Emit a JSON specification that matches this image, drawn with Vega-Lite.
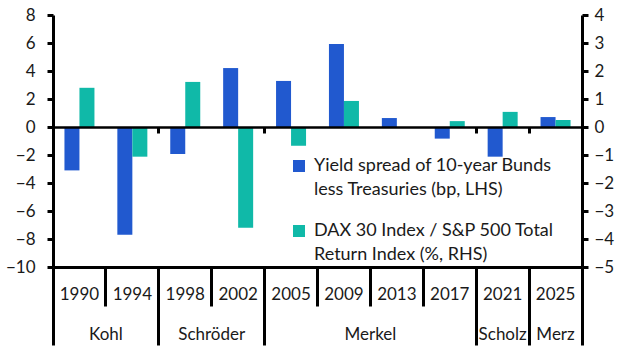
{
  "$schema": "https://vega.github.io/schema/vega-lite/v6.json",
  "width": 529,
  "height": 252,
  "autosize": {"type": "none"},
  "padding": {"left": 53, "top": 15, "right": 50, "bottom": 90},
  "background": "white",
  "config": {
    "font": "Lato",
    "view": {"stroke": null},
    "style": {"guide-label": {"lineHeight": 24}},
    "axis": {"labelFont": "Lato", "labelFontSize": 17, "labelColor": "#1a1a1a", "domainColor": "black", "tickColor": "black", "grid": false, "title": null}
  },
  "data": {
    "values": [
      {"year": "1990", "spread": -3.1, "dax": 1.4},
      {"year": "1994", "spread": -7.7, "dax": -1.06},
      {"year": "1998", "spread": -1.93, "dax": 1.61},
      {"year": "2002", "spread": 4.21, "dax": -3.6},
      {"year": "2005", "spread": 3.29, "dax": -0.67},
      {"year": "2009", "spread": 5.93, "dax": 0.93},
      {"year": "2013", "spread": 0.64, "dax": 0.0},
      {"year": "2017", "spread": -0.83, "dax": 0.21},
      {"year": "2021", "spread": -2.12, "dax": 0.54},
      {"year": "2025", "spread": 0.71, "dax": 0.25}
    ]
  },
  "layer": [
    {
      "mark": {"type": "bar"},
      "encoding": {
        "x": {"field": "year", "type": "nominal", "sort": null, "scale": {"paddingInner": 0, "paddingOuter": 0},
          "axis": {"orient": "bottom", "ticks": false, "domain": true, "domainWidth": 3, "labelPadding": 27, "labelBaseline": "middle", "labelAngle": 0}},
        "xOffset": {"datum": "Yield", "scale": {"domain": ["Yield", "DAX"], "paddingOuter": 0.763, "paddingInner": 0}},
        "y": {"field": "spread", "type": "quantitative", "scale": {"domain": [-10, 8], "nice": false, "zero": false},
          "axis": {"orient": "left", "values": [-10, -8, -6, -4, -2, 0, 2, 4, 6, 8], "tickSize": 6, "tickWidth": 3, "domainWidth": 3, "labelPadding": 12}},
        "color": {"datum": "Yield spread of 10-year Bunds|less Treasuries (bp, LHS)", "type": "nominal",
          "scale": {"domain": ["Yield spread of 10-year Bunds|less Treasuries (bp, LHS)", "DAX 30 Index / S&P 500 Total|Return Index (%, RHS)"], "range": ["#2159CF", "#10B9A8"]},
          "legend": {"orient": "none", "legendX": 237, "legendY": 142, "title": null, "labelExpr": "split(datum.label, '|')", "labelFont": "Lato", "labelFontSize": 18, "labelColor": "#1a1a1a", "labelLimit": 400, "symbolType": "square", "symbolSize": 144, "rowPadding": 23, "labelOffset": 6, "symbolStrokeWidth": 0, "padding": 0}}
      }
    },
    {
      "mark": {"type": "bar"},
      "encoding": {
        "x": {"field": "year", "type": "nominal", "sort": null,
          "axis": {"orient": "bottom", "labels": false, "domain": false, "ticks": true, "bandPosition": 1, "tickExtra": true, "tickWidth": 3,
            "tickSize": {"condition": {"test": "datum.index < 0 || datum.value == '1994' || datum.value == '2002' || datum.value == '2017' || datum.value == '2021' || datum.value == '2025'", "value": 78}, "value": 39}}},
        "xOffset": {"datum": "DAX"},
        "y": {"field": "dax", "type": "quantitative", "scale": {"domain": [-5, 4], "nice": false, "zero": false},
          "axis": {"orient": "right", "values": [-5, -4, -3, -2, -1, 0, 1, 2, 3, 4], "tickSize": 6, "tickWidth": 3, "domainWidth": 3, "labelPadding": 6}},
        "color": {"datum": "DAX 30 Index / S&P 500 Total|Return Index (%, RHS)", "type": "nominal"}
      }
    },
    {
      "mark": {"type": "rule", "strokeOpacity": 0},
      "encoding": {
        "x": {"field": "year", "type": "nominal", "sort": null,
          "axis": {"orient": "bottom", "ticks": false, "domain": false, "values": ["1994", "2002", "2013", "2021", "2025"],
            "labelExpr": "datum.value == '1994' ? 'Kohl' : datum.value == '2002' ? 'Schröder' : datum.value == '2013' ? 'Merkel' : datum.value == '2021' ? 'Scholz' : 'Merz'",
            "labelOffset": {"condition": {"test": "datum.value == '2021' || datum.value == '2025'", "value": 0}, "value": -26.45},
            "labelPadding": 67, "labelBaseline": "middle", "labelAngle": 0}}
      }
    },
    {
      "mark": {"type": "rule", "strokeOpacity": 0},
      "encoding": {
        "x": {"field": "year", "type": "nominal", "sort": null,
          "axis": {"orient": "bottom", "offset": -140, "labels": false, "domain": true, "domainWidth": 2.5, "ticks": true, "tickSize": 6, "tickWidth": 3, "bandPosition": 1, "values": ["1994", "2002", "2017", "2021"], "zindex": 1}}
      }
    }
  ],
  "resolve": {"scale": {"y": "independent"}, "axis": {"x": "independent", "y": "independent"}}
}
